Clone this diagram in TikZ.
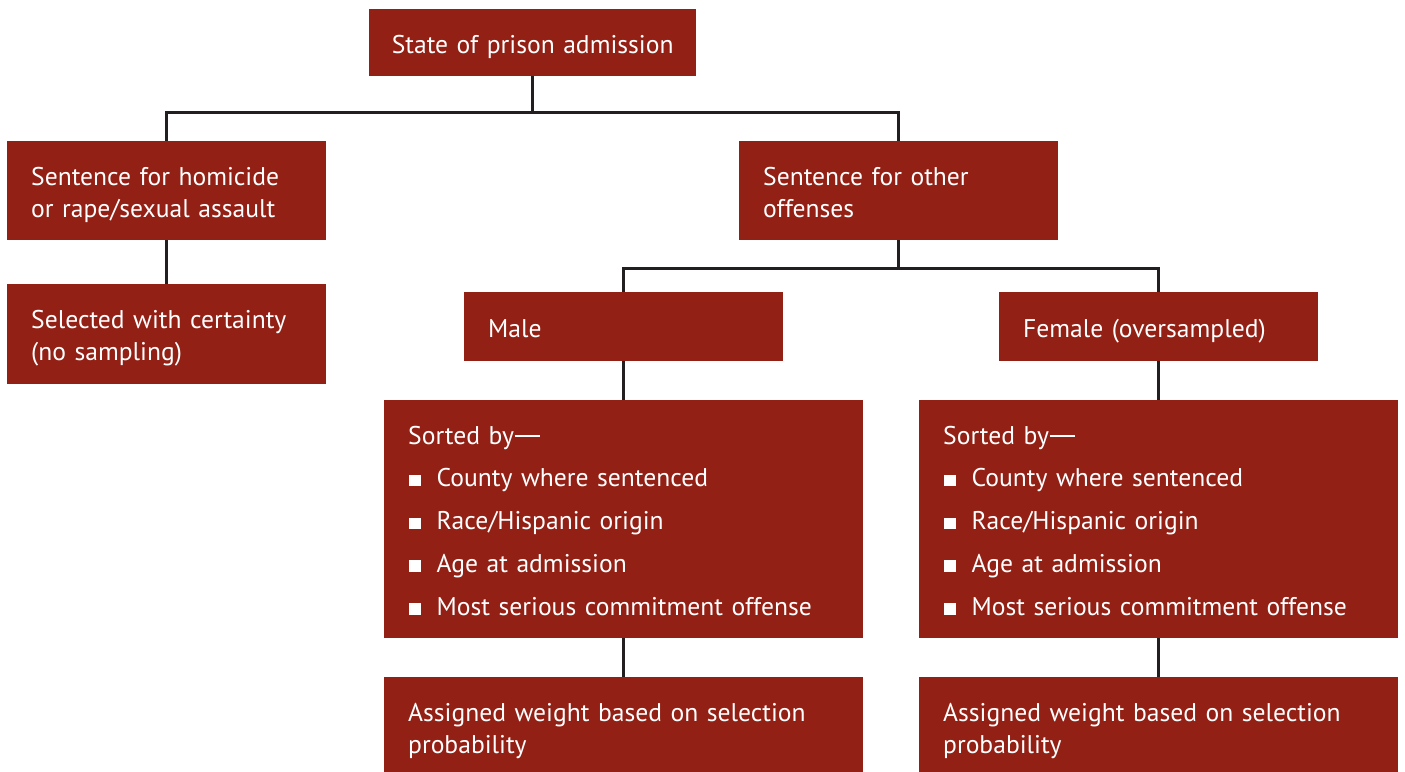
\documentclass[tikz,border=0pt]{standalone}
\usepackage{fontspec}
\setmainfont{PT Sans}
\definecolor{boxred}{HTML}{922015}
\definecolor{linegray}{HTML}{231F20}
\newcommand{\sqb}{\hspace{1pt}\raisebox{0.5pt}{\rule{11.5pt}{11.5pt}}\hspace{16pt}}
\newcommand{\tst}{\rule{0pt}{30pt}}
\newcommand{\bst}{\rule[-9pt]{0pt}{9pt}}
\newcommand{\emd}{\hspace{0.5pt}\rule[7.5pt]{25pt}{1.5pt}}
\begin{document}
\begin{tikzpicture}[x=1pt,y=-1pt,
  box/.style={fill=boxred,draw=none,text=white,inner xsep=24pt,inner ysep=0pt,
    anchor=north west,align=left,font=\fontsize{25.6}{32}\selectfont},
  conn/.style={draw=linegray,line width=2.5pt}]
\clip (0,0) rectangle (1405,771);
\fill[white] (0,0) rectangle (1405,771);
\node[box,align=center,inner xsep=8.5pt,text width=310pt,minimum height=67pt] (top) at (369,9) {\tst State of prison admission\bst};
\node[box,text width=271pt,minimum height=99pt] (hom) at (7,141) {\tst Sentence for homicide\\or rape/sexual assault\bst};
\node[box,text width=271pt,minimum height=100pt] (cert) at (7,284) {\tst Selected with certainty\\(no sampling)\bst};
\node[box,text width=271pt,minimum height=99pt] (oth) at (739,141) {\tst Sentence for other\\offenses\bst};
\node[box,text width=271pt,minimum height=69pt] (male) at (464,292) {\tst Male\bst};
\node[box,text width=271pt,minimum height=69pt] (fem) at (999,292) {\tst Female (oversampled)\bst};
\node[box,text width=431pt,minimum height=238pt,font=\fontsize{25.6}{42.75}\selectfont] (msort) at (384,400)
  {\tst Sorted by\emd\\ \sqb County where sentenced\\ \sqb Race/Hispanic origin\\ \sqb Age at admission\\ \sqb Most serious commitment offense\bst};
\node[box,text width=431pt,minimum height=238pt,font=\fontsize{25.6}{42.75}\selectfont] (fsort) at (919,400)
  {\tst Sorted by\emd\\ \sqb County where sentenced\\ \sqb Race/Hispanic origin\\ \sqb Age at admission\\ \sqb Most serious commitment offense\bst};
\node[box,text width=431pt,minimum height=99pt] (mw) at (384,677) {\tst Assigned weight based on selection\\probability\bst};
\node[box,text width=431pt,minimum height=99pt] (fw) at (919,677) {\tst Assigned weight based on selection\\probability\bst};
\draw[conn] (top.south) -- ++(0,36) coordinate (j1);
\draw[conn] (j1) -| (hom.north);
\draw[conn] (j1) -| (oth.north);
\draw[conn] (hom.south) -- (cert.north);
\draw[conn] (oth.south) -- ++(0,28) coordinate (j2);
\draw[conn] (j2) -| (male.north);
\draw[conn] (j2) -| (fem.north);
\draw[conn] (male.south) -- (msort.north);
\draw[conn] (fem.south) -- (fsort.north);
\draw[conn] (msort.south) -- (mw.north);
\draw[conn] (fsort.south) -- (fw.north);
\end{tikzpicture}
\end{document}
